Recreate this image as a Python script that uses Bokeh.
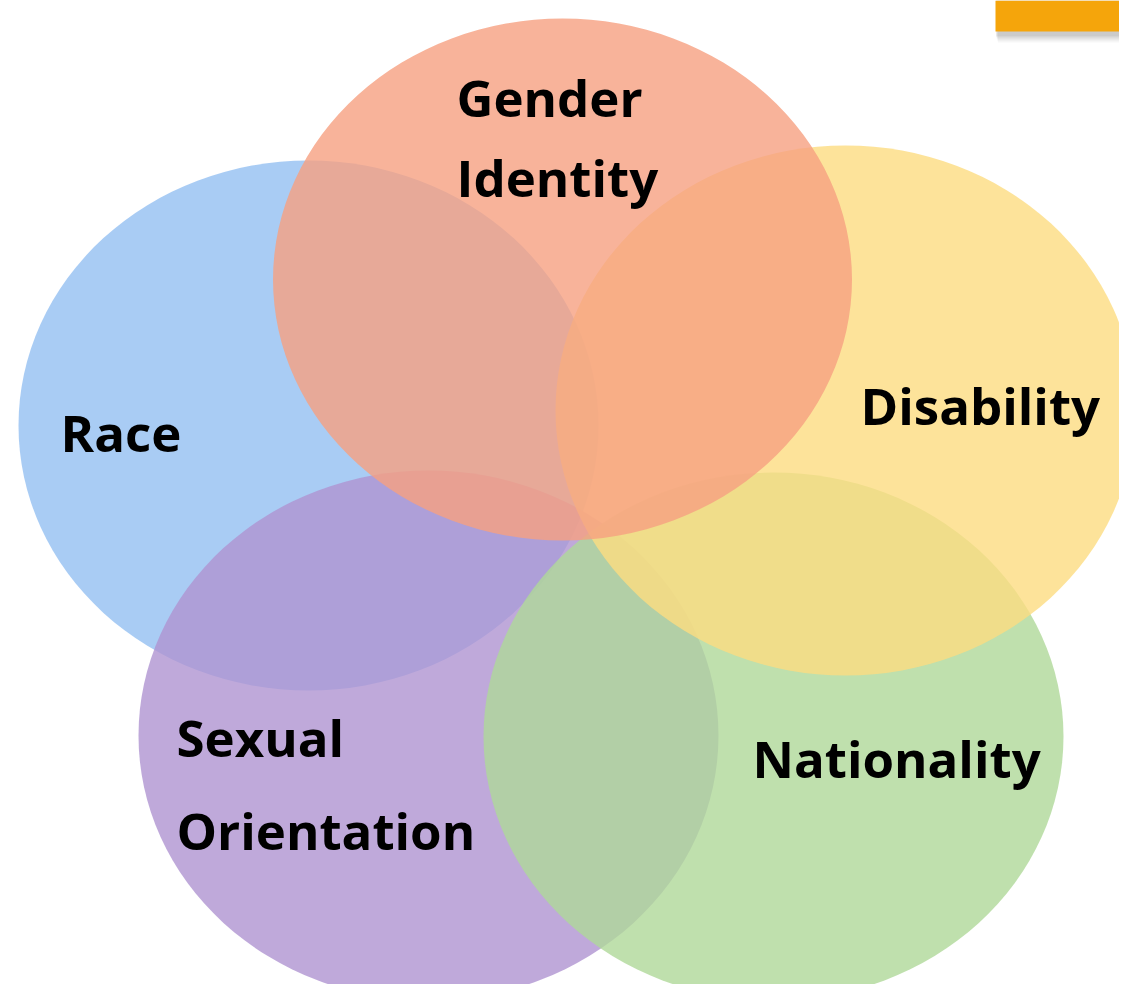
from bokeh.plotting import figure
from bokeh.models import ColumnDataSource, Range1d
from bokeh.core.properties import value
from bokeh.embed import file_html
from bokeh.resources import INLINE

# Venn sets (drawing order: bottom to top)
sets = ["Race", "Sexual Orientation", "Nationality", "Disability", "Gender Identity"]
cx = [308, 428, 773, 845, 562]
cy = [425, 735, 736, 410, 279]
ew = [580, 580, 580, 580, 579]
eh = [530, 530, 528, 530, 522]
colors = ["#93bff1", "#af94d1", "#afd898", "#fcdc81", "#f6a081"]

# label lines (left x, y)
label_text = ["Race", "Sexual", "Orientation", "Nationality", "Disability", "Gender", "Identity"]
label_x = [60, 176, 176, 752, 860, 456, 456]
label_y = [431, 736, 829, 757, 404, 96, 176]

W, H = 1119, 984
p = figure(width=W, height=H, output_backend="svg", toolbar_location=None,
           x_range=Range1d(0, W), y_range=Range1d(H, 0),
           min_border=0, outline_line_color=None)
p.axis.visible = False
p.grid.visible = False
p.background_fill_color = "white"
p.border_fill_color = "white"

# decorative orange tab with shadow at top right
for i, a in enumerate([0.05, 0.07, 0.09, 0.12]):
    off = 8 - 2 * i
    p.quad(left=[995 + off * 0.3], right=[1140], top=[0], bottom=[34 + off], fill_color="#555555",
           fill_alpha=a, line_color=None)
p.quad(left=[995], right=[1140], top=[0], bottom=[31], fill_color="#f5a50b", line_color=None)

src = ColumnDataSource(dict(x=cx, y=cy, w=ew, h=eh, c=colors, name=sets))
p.ellipse(x="x", y="y", width="w", height="h", fill_color="c", fill_alpha=0.8,
          line_color=None, source=src)

lsrc = ColumnDataSource(dict(x=label_x, y=label_y, t=label_text))
p.text(x="x", y="y", text="t", source=lsrc, text_font=value("Open Sans"),
       text_font_style="bold", text_font_size="51px", text_color="#000000",
       text_align="left", text_baseline="alphabetic")

open("out.html", "w").write(file_html(p, INLINE))
